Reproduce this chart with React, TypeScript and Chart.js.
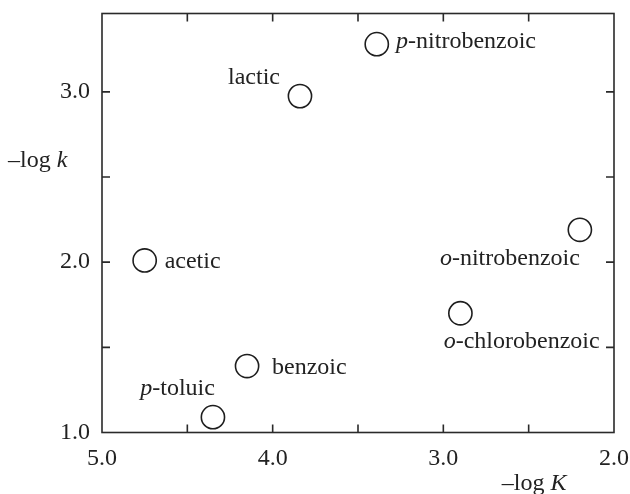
import React, { useEffect, useRef } from 'react';
import { Chart, registerables } from 'chart.js';

Chart.register(...registerables);

// ---- data ----
const acids = ['acetic', 'benzoic', 'p-toluic', 'lactic', 'p-nitrobenzoic', 'o-nitrobenzoic', 'o-chlorobenzoic'];
const minusLogK = [4.75, 4.15, 4.35, 3.84, 3.39, 2.2, 2.9]; // x: –log K
const minusLogRate = [2.01, 1.39, 1.09, 2.975, 3.28, 2.19, 1.7]; // y: –log k
const xTickLabels = ['5.0', '4.0', '3.0', '2.0'];
const yTickLabels = ['1.0', '2.0', '3.0'];
const xTitle = ['–log ', 'K'];
const yTitle = ['–log ', 'k'];

// ---- label placement (style) ----
const labelPlacement: Record<string, { dx: number; dy: number; align: 'left' | 'right' }> = {
  acetic: { dx: 20, dy: 7.5, align: 'left' },
  benzoic: { dx: 25, dy: 8.3, align: 'left' },
  'p-toluic': { dx: 2, dy: -21.7, align: 'right' },
  lactic: { dx: -20, dy: -11.7, align: 'right' },
  'p-nitrobenzoic': { dx: 19.3, dy: 4, align: 'left' },
  'o-nitrobenzoic': { dx: 0, dy: 35, align: 'right' },
  'o-chlorobenzoic': { dx: -16.7, dy: 34.3, align: 'left' },
};

const FONT = "'Liberation Serif', 'Times New Roman', Times, serif";
const FS = 24;
const INK = '#222';

function splitName(name: string): [string, string] {
  const m = /^([op])(-.*)$/.exec(name);
  return m ? [m[1], m[2]] : ['', name];
}

function drawMixed(ctx: CanvasRenderingContext2D, parts: [string, boolean][], x: number, y: number, align: 'left' | 'right') {
  const widths = parts.map(([t, it]) => {
    ctx.font = `${it ? 'italic ' : ''}${FS}px ${FONT}`;
    return ctx.measureText(t).width;
  });
  const total = widths.reduce((a, b) => a + b, 0);
  let cx = align === 'left' ? x : x - total;
  ctx.textAlign = 'left';
  ctx.textBaseline = 'alphabetic';
  parts.forEach(([t, it], i) => {
    ctx.font = `${it ? 'italic ' : ''}${FS}px ${FONT}`;
    ctx.fillText(t, cx, y);
    cx += widths[i];
  });
}

const decorPlugin = {
  id: 'decor',
  beforeDatasetsDraw(chart: any) {
    const { ctx, chartArea: a, scales } = chart;
    ctx.save();
    ctx.strokeStyle = '#2a2a2a';
    ctx.lineWidth = 1.6;
    ctx.strokeRect(a.left, a.top, a.right - a.left, a.bottom - a.top);
    const tl = 8;
    ctx.beginPath();
    scales.x.ticks.forEach((t: any) => {
      const p = scales.x.getPixelForValue(t.value);
      if (Math.abs(p - a.left) < 1 || Math.abs(p - a.right) < 1) return;
      ctx.moveTo(p, a.bottom);
      ctx.lineTo(p, a.bottom - tl);
      ctx.moveTo(p, a.top);
      ctx.lineTo(p, a.top + tl);
    });
    scales.y.ticks.forEach((t: any) => {
      const p = scales.y.getPixelForValue(t.value);
      if (Math.abs(p - a.top) < 1 || Math.abs(p - a.bottom) < 1) return;
      ctx.moveTo(a.left, p);
      ctx.lineTo(a.left + tl, p);
      ctx.moveTo(a.right, p);
      ctx.lineTo(a.right - tl, p);
    });
    ctx.stroke();
    ctx.restore();
  },
  afterDatasetsDraw(chart: any) {
    const { ctx, chartArea: a } = chart;
    const meta = chart.getDatasetMeta(0);
    ctx.save();
    ctx.fillStyle = INK;
    meta.data.forEach((pt: any, i: number) => {
      const name = acids[i];
      const pl = labelPlacement[name];
      const [it, rest] = splitName(name);
      const parts: [string, boolean][] = [];
      if (it) parts.push([it, true]);
      parts.push([rest, false]);
      drawMixed(ctx, parts, pt.x + pl.dx, pt.y + pl.dy, pl.align);
    });
    drawMixed(ctx, [[yTitle[0], false], [yTitle[1], true]], a.left - 94, a.top + 153, 'left');
    drawMixed(ctx, [[xTitle[0], false], [xTitle[1], true]], a.right - 47.5, a.bottom + 57.5, 'right');
    ctx.restore();
  },
};

export default function App() {
  const ref = useRef<HTMLCanvasElement | null>(null);
  useEffect(() => {
    if (!ref.current) return;
    const chart = new Chart(ref.current, {
      type: 'scatter',
      data: {
        datasets: [
          {
            label: '–log k',
            data: minusLogK.map((x, i) => ({ x, y: minusLogRate[i] })),
            pointRadius: 11.6,
            pointHoverRadius: 11.6,
            pointBorderWidth: 1.6,
            pointBackgroundColor: '#ffffff',
            pointBorderColor: '#1e1e1e',
            showLine: false,
          },
        ],
      },
      options: {
        responsive: false,
        animation: false,
        devicePixelRatio: 1,
        layout: { padding: { top: 13.5, right: 16, left: 0, bottom: 0 } },
        plugins: { legend: { display: false }, tooltip: { enabled: false } },
        scales: {
          x: {
            type: 'linear',
            min: 2,
            max: 5,
            reverse: true,
            grid: { display: false, drawTicks: false },
            border: { display: false },
            ticks: {
              stepSize: 0.5,
              autoSkip: false,
              maxRotation: 0,
              padding: 12,
              color: INK,
              font: { family: FONT, size: FS },
              callback: (v: any) => {
                const s = Number(v).toFixed(1);
                return xTickLabels.includes(s) ? s : '';
              },
            },
            afterFit: (s: any) => {
              s.height = 61.5;
              s.paddingLeft = 0;
              s.paddingRight = 0;
            },
          },
          y: {
            type: 'linear',
            min: 1,
            max: 3.46,
            grid: { display: false, drawTicks: false },
            border: { display: false },
            ticks: {
              stepSize: 0.5,
              includeBounds: false,
              autoSkip: false,
              padding: 12,
              color: INK,
              font: { family: FONT, size: FS },
              callback: (v: any) => {
                const s = Number(v).toFixed(1);
                return yTickLabels.includes(s) ? s : '';
              },
            },
            afterFit: (s: any) => {
              s.width = 102;
              s.paddingTop = 0;
              s.paddingBottom = 0;
            },
          },
        },
      },
      plugins: [decorPlugin],
    } as any);
    return () => chart.destroy();
  }, []);
  return (
    <div style={{ position: 'absolute', left: 0, top: 0, width: 630, height: 494, background: '#fff' }}>
      <canvas ref={ref} width={630} height={494} />
    </div>
  );
}
